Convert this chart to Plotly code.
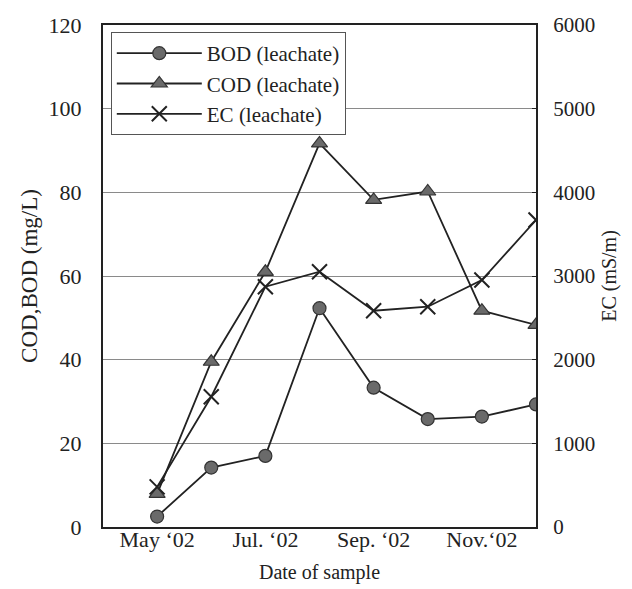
import plotly.graph_objects as go

months = [1, 2, 3, 4, 5, 6, 7, 8]
tick_vals = [1, 3, 5, 7]
tick_text = ["May \u201802", "Jul. \u201802", "Sep. \u201802", "Nov.\u201802"]
bod = [2.5, 14.2, 17.0, 52.3, 33.3, 25.8, 26.4, 29.3]
cod = [7.9, 39.5, 61.0, 91.7, 78.2, 80.2, 51.7, 48.3]
ec = [480, 1557, 2872, 3051, 2585, 2633, 2952, 3669]

FONT = "Liberation Serif, Times New Roman, serif"
INK = "#222"

fig = go.Figure()
fig.add_trace(go.Scatter(
    x=months, y=bod, name="BOD (leachate)", mode="lines+markers",
    line=dict(color=INK, width=1.8),
    marker=dict(symbol="circle", size=13, color="#6a6a6a", line=dict(color="#333", width=1.2)),
))
fig.add_trace(go.Scatter(
    x=months, y=cod, name="COD (leachate)", mode="lines+markers",
    line=dict(color=INK, width=1.8),
    marker=dict(symbol="triangle-up", size=14, color="#6a6a6a", line=dict(color="#333", width=1.2)),
))
fig.add_trace(go.Scatter(
    x=months, y=ec, name="EC (leachate)", mode="lines+markers", yaxis="y2",
    line=dict(color=INK, width=1.8),
    marker=dict(symbol="x-thin", size=15, color=INK, line=dict(color=INK, width=2)),
))

# the page body adds an 8px offset; figure sized to fit inside the window
fig.update_layout(
    width=624, height=581,
    margin=dict(l=95, r=96, t=17, b=62, autoexpand=False),
    paper_bgcolor="white", plot_bgcolor="white",
    font=dict(family=FONT, size=22, color=INK),
    showlegend=True,
    legend=dict(
        x=0.018, y=0.986, xanchor="left", yanchor="top",
        bgcolor="white", bordercolor="#555", borderwidth=1,
        font=dict(family=FONT, size=21, color=INK),
        tracegroupgap=0, itemwidth=85,
    ),
    xaxis=dict(
        range=[0, 8], tickvals=tick_vals, ticktext=tick_text,
        showgrid=False, zeroline=False,
        showline=True, linecolor=INK, linewidth=2, mirror=True,
        ticks="", ticklabelstandoff=-8,
        tickfont=dict(family=FONT, size=22, color=INK),
        title=dict(text="Date of sample", font=dict(family=FONT, size=20, color=INK), standoff=14),
    ),
    yaxis=dict(
        range=[0, 120], dtick=20,
        showgrid=True, gridcolor="#8a8a8a", gridwidth=1.3, zeroline=False,
        showline=True, linecolor=INK, linewidth=2,
        ticks="", ticklabelstandoff=15,
        tickfont=dict(family=FONT, size=22, color=INK),
        title=dict(text="COD,BOD (mg/L)", font=dict(family=FONT, size=23, color=INK), standoff=5),
    ),
    yaxis2=dict(
        range=[0, 6000], dtick=1000, overlaying="y", side="right",
        showgrid=False, zeroline=False,
        showline=True, linecolor=INK, linewidth=2,
        ticks="inside", ticklen=4, tickcolor=INK, ticklabelstandoff=11,
        tickfont=dict(family=FONT, size=21, color=INK),
        title=dict(text="EC (mS/m)", font=dict(family=FONT, size=20, color=INK), standoff=8),
    ),
)

fig.write_html("out.html")
